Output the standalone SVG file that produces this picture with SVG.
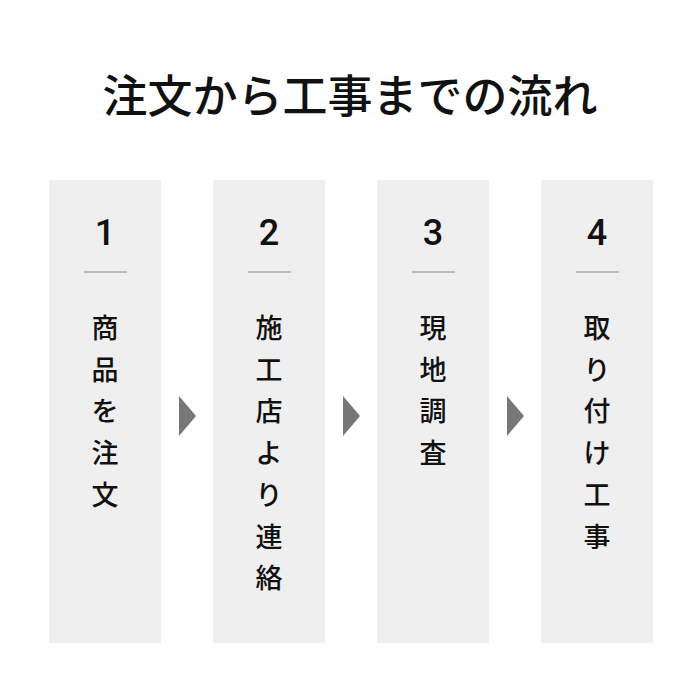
<svg xmlns="http://www.w3.org/2000/svg" width="700" height="700" viewBox="0 0 700 700">
<style>
.box{fill:#efefef}
.t{font-family:"Noto Sans CJK JP","Noto Sans",sans-serif;fill:#111;text-anchor:middle}
.title{font-size:45px;font-weight:500}
.num{font-family:Roboto,"Noto Sans",sans-serif;font-size:36px;font-weight:500;fill:#111;text-anchor:middle}
.v{font-size:27px;font-weight:500}
.rule{stroke:#888;stroke-width:1}
.arr{fill:#777}
</style>
<rect width="700" height="700" fill="#fff"/>
<text class="t title" x="350" y="113">注文から工事までの流れ</text>
<g id="step1">
<rect class="box" x="49" y="180" width="112" height="463"/>
<text class="num" x="105" y="245">1</text>
<line class="rule" x1="84" y1="272" x2="127" y2="272"/>
<text class="t v"><tspan x="105" y="338">商</tspan><tspan x="105" y="380">品</tspan><tspan x="105" y="421">を</tspan><tspan x="105" y="463">注</tspan><tspan x="105" y="505">文</tspan></text>
</g>
<g id="step2">
<rect class="box" x="213" y="180" width="112" height="463"/>
<text class="num" x="269" y="245">2</text>
<line class="rule" x1="248" y1="272" x2="291" y2="272"/>
<text class="t v"><tspan x="269" y="338">施</tspan><tspan x="269" y="380">工</tspan><tspan x="269" y="421">店</tspan><tspan x="269" y="463">よ</tspan><tspan x="269" y="505">り</tspan><tspan x="269" y="547">連</tspan><tspan x="269" y="588">絡</tspan></text>
</g>
<g id="step3">
<rect class="box" x="377" y="180" width="112" height="463"/>
<text class="num" x="433" y="245">3</text>
<line class="rule" x1="412" y1="272" x2="455" y2="272"/>
<text class="t v"><tspan x="433" y="338">現</tspan><tspan x="433" y="380">地</tspan><tspan x="433" y="421">調</tspan><tspan x="433" y="463">査</tspan></text>
</g>
<g id="step4">
<rect class="box" x="541" y="180" width="112" height="463"/>
<text class="num" x="597" y="245">4</text>
<line class="rule" x1="576" y1="272" x2="619" y2="272"/>
<text class="t v"><tspan x="597" y="338">取</tspan><tspan x="597" y="380">り</tspan><tspan x="597" y="421">付</tspan><tspan x="597" y="463">け</tspan><tspan x="597" y="505">工</tspan><tspan x="597" y="547">事</tspan></text>
</g>
<g id="connectors">
<polygon class="arr" points="179,396 196,416 179,436"/>
<polygon class="arr" points="343,396 360,416 343,436"/>
<polygon class="arr" points="507,396 524,416 507,436"/>
</g>
</svg>
